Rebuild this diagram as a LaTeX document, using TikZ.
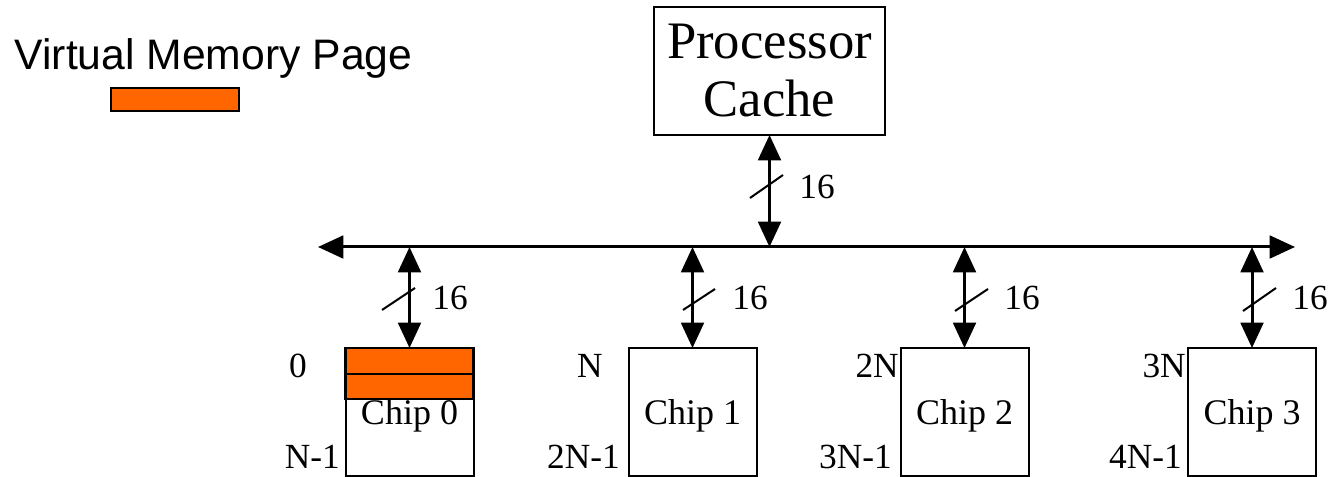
\documentclass[tikz,border=0pt]{standalone}
\usepackage{fontspec}
\setmainfont{Liberation Serif}
\newfontfamily\arialfont{Liberation Sans}
\usetikzlibrary{arrows.meta,calc}
\definecolor{pageorange}{HTML}{FF6600}
\begin{document}
\begin{tikzpicture}[x=0.75pt,y=-0.75pt,
  box/.style={draw,line width=1.5pt,inner sep=0pt,outer sep=0pt},
  chipbox/.style={box,minimum width=96pt,minimum height=96pt,text depth=0pt,font=\fontsize{27}{30}\selectfont},
  lbl/.style={font=\fontsize{26.5}{30}\selectfont,inner sep=0pt},
  bus/.style={line width=2.25pt,{Triangle[length=19pt,width=17pt]}-{Triangle[length=19pt,width=17pt]}},
  slash/.style={line width=1.5pt},
  page/.style={draw,line width=2pt,fill=pageorange}]
\useasboundingbox (0,0) rectangle (1331,477);

% legend
\node[font=\arialfont\fontsize{32}{36}\selectfont,inner sep=0pt] (legend) at (213.5,58) {Virtual Memory Page};
\draw[page] (111,88) rectangle (239,111);

% processor
\node[box,minimum width=173.25pt,minimum height=96pt,align=center,
      font=\fontsize{39.5}{43.5}\selectfont] (proc) at (769.5,71) {Processor\\Cache};

% page stripes on chip 0 (drawn under the chip outline)
\draw[page] (345.5,348) rectangle (473.5,374);
\draw[page] (345.5,374) rectangle (473.5,399);

% chips
\node[chipbox] (chip0) at (409.5,412) {Chip 0};
\node[chipbox] (chip1) at (692.5,412) {Chip 1};
\node[chipbox] (chip2) at (964.5,412) {Chip 2};
\node[chipbox] (chip3) at (1252,412) {Chip 3};

% bus
\coordinate (busL) at (318,247);
\coordinate (busR) at (1295,247);
\draw[bus] (busL) -- (busR);

% processor link
\draw[bus] (proc.south) -- (proc.south |- busL);
\draw[slash] ($(proc.south)+(-19.5,63)$) -- ++(33,-23);
\node[lbl] (w0) at ($(proc.south)+(47.5,52)$) {16};

% chip links
\draw[bus] (chip0.north |- busL) -- (chip0.north);
\draw[bus] (chip1.north |- busL) -- (chip1.north);
\draw[bus] (chip2.north |- busL) -- (chip2.north);
\draw[bus] (chip3.north |- busL) -- (chip3.north);

\draw[slash] ($(chip0.north)+(-27.5,-38)$) -- ++(33,-22);
\draw[slash] ($(chip1.north)+(-9.5,-38)$) -- ++(32,-21);
\draw[slash] ($(chip2.north)+(-9.5,-37)$) -- ++(33,-22);
\draw[slash] ($(chip3.north)+(-9,-37)$) -- ++(33,-23);

\node[lbl] (w1) at ($(chip0.north)+(40.5,-50)$) {16};
\node[lbl] (w2) at ($(chip1.north)+(57.5,-50)$) {16};
\node[lbl] (w3) at ($(chip2.north)+(57.5,-50)$) {16};
\node[lbl] (w4) at ($(chip3.north)+(58,-50)$) {16};

% address labels
\node[lbl,anchor=base] (a0) at (298,377) {0};
\node[lbl,anchor=base] (a1) at (590,377) {N};
\node[lbl,anchor=base east] (a2) at (899,377) {2N};
\node[lbl,anchor=base east] (a3) at (1186,377) {3N};
\node[lbl,anchor=base east] (b0) at (340,468) {N-1};
\node[lbl,anchor=base east] (b1) at (620,468) {2N-1};
\node[lbl,anchor=base east] (b2) at (892,468) {3N-1};
\node[lbl,anchor=base east] (b3) at (1182,468) {4N-1};
\end{tikzpicture}
\end{document}
